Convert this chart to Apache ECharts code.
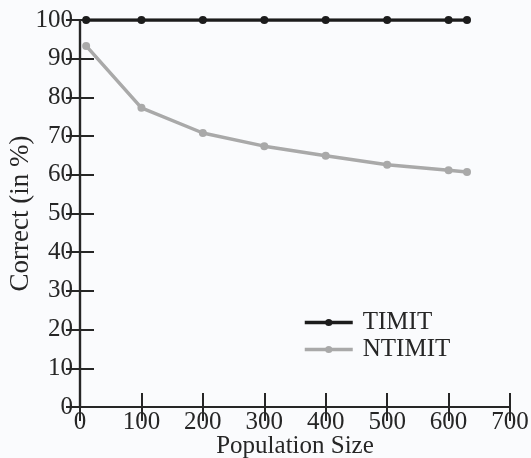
<!DOCTYPE html>
<html>
<head>
<meta charset="utf-8">
<script src="https://cdn.jsdelivr.net/npm/echarts@6/dist/echarts.min.js"></script>
<style>
  html, body { margin: 0; padding: 0; background: #fafbfd; }
  #chart { width: 531px; height: 458px; }
</style>
</head>
<body>
<div id="chart"></div>
<script>
// Population sizes and identification accuracy (%)
const populationSizes = [10, 100, 200, 300, 400, 500, 600, 630];
const timitCorrect   = [100, 100, 100, 100, 100, 100, 100, 100];
const ntimitCorrect  = [93.3, 77.3, 70.8, 67.4, 64.9, 62.6, 61.2, 60.7];

const serif = 'Liberation Serif';
const ink = '#262626';

function pairs(xs, ys) { return xs.map((x, i) => [x, ys[i]]); }

const axisLine = { show: true, lineStyle: { color: ink, width: 2.2 } };
const axisTick = { show: true, inside: true, length: 14, lineStyle: { color: ink, width: 2 } };

const chart = echarts.init(document.getElementById('chart'));
chart.setOption({
  backgroundColor: '#fafbfd',
  animation: false,
  grid: { left: 80, right: 21, top: 20, bottom: 51, containLabel: false, outerBoundsMode: 'none' },
  legend: {
    left: 298, top: 305,
    orient: 'vertical',
    itemWidth: 48, itemHeight: 9, itemGap: 2,
    lineStyle: { width: 3.5 },
    textStyle: { fontFamily: serif, fontSize: 25, color: ink, padding: [0, 0, 0, 5] },
    data: ['TIMIT', 'NTIMIT']
  },
  xAxis: [
    {
      type: 'value', min: 0, max: 700, interval: 100,
      name: 'Population Size', nameLocation: 'middle', nameGap: 27, nameMoveOverlap: false,
      nameTextStyle: { fontFamily: serif, fontSize: 25, color: ink },
      axisLine, axisTick,
      axisLabel: { fontFamily: serif, fontSize: 25, color: ink, margin: 3 },
      splitLine: { show: false }
    },
    {
      type: 'value', position: 'top', min: 0, max: 700, interval: 100,
      axisLine, axisTick, axisLabel: { show: false }, splitLine: { show: false }
    }
  ],
  yAxis: [
    {
      type: 'value', min: 0, max: 100, interval: 10,
      name: 'Correct (in %)', nameLocation: 'middle', nameGap: 46, nameMoveOverlap: false,
      nameTextStyle: { fontFamily: serif, fontSize: 27, color: ink },
      axisLine, axisTick,
      axisLabel: { fontFamily: serif, fontSize: 25, color: ink, margin: 7 },
      splitLine: { show: false }
    },
    {
      type: 'value', position: 'right', min: 0, max: 100, interval: 10,
      axisLine, axisTick, axisLabel: { show: false }, splitLine: { show: false }
    }
  ],
  series: [
    {
      name: 'TIMIT', type: 'line',
      data: pairs(populationSizes, timitCorrect),
      symbol: 'circle', symbolSize: 8,
      lineStyle: { color: '#1c1c1c', width: 3.5 },
      itemStyle: { color: '#1c1c1c' },
      z: 3
    },
    {
      name: 'NTIMIT', type: 'line',
      data: pairs(populationSizes, ntimitCorrect),
      symbol: 'circle', symbolSize: 8,
      lineStyle: { color: '#a9a9a9', width: 3.5 },
      itemStyle: { color: '#a9a9a9' },
      z: 2
    }
  ]
});
</script>
</body>
</html>
